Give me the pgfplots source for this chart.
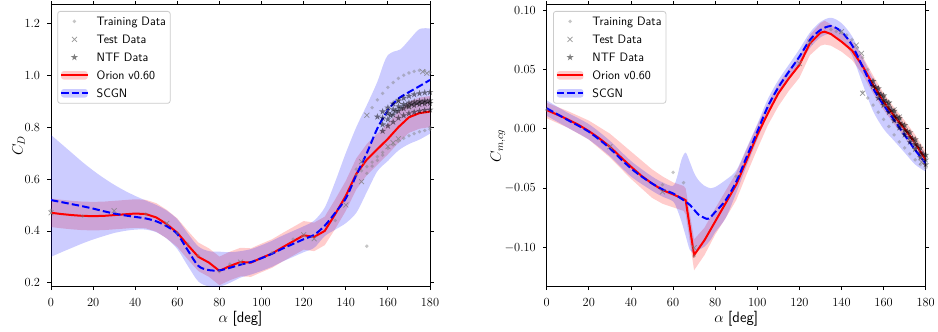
\RequirePackage{fix-cm}
\documentclass[border=0pt]{standalone}
\usepackage{fontspec}
\usepackage{pgfplots}
\pgfplotsset{compat=1.18}
\usepgfplotslibrary{fillbetween}

\pgfdeclareplotmark{fstar}{%
  \pgfpathmoveto{\pgfqpointpolar{90}{\pgfplotmarksize}}%
  \pgfpathlineto{\pgfqpointpolar{126}{0.382\pgfplotmarksize}}%
  \pgfpathlineto{\pgfqpointpolar{162}{\pgfplotmarksize}}%
  \pgfpathlineto{\pgfqpointpolar{198}{0.382\pgfplotmarksize}}%
  \pgfpathlineto{\pgfqpointpolar{234}{\pgfplotmarksize}}%
  \pgfpathlineto{\pgfqpointpolar{270}{0.382\pgfplotmarksize}}%
  \pgfpathlineto{\pgfqpointpolar{306}{\pgfplotmarksize}}%
  \pgfpathlineto{\pgfqpointpolar{342}{0.382\pgfplotmarksize}}%
  \pgfpathlineto{\pgfqpointpolar{18}{\pgfplotmarksize}}%
  \pgfpathlineto{\pgfqpointpolar{54}{0.382\pgfplotmarksize}}%
  \pgfpathclose\pgfusepathqfill}

\pgfplotsset{
 base/.style={
  scale only axis, width=379pt, height=282pt,
  xmin=0, xmax=180, xtick={0,20,...,180},
  tick align=outside, major tick length=3.5pt,
  tick style={black, line width=0.8pt},
  axis line style={black, line width=0.8pt},
  tick label style={font=\fontsize{12.4}{14}\selectfont},
  xticklabel style={yshift=-5.2pt},
  yticklabel style={xshift=-3.9pt},
  scaled y ticks=false,
  label style={font=\fontsize{15}{18}\selectfont},
  xlabel={$\alpha$ \textsf{[deg]}},
  xlabel style={at={(axis description cs:0.5,0)}, anchor=base, yshift=-35.8pt},
  legend cell align=left,
  legend style={at={(0,1)}, anchor=north west, xshift=6.3pt, yshift=-6.3pt,
    draw=black!20, line width=0.8pt, rounded corners=2.5pt,
    fill=white, fill opacity=0.8, text opacity=1,
    font=\sffamily\fontsize{12.2}{14.4}\selectfont,
    inner xsep=2.4pt, inner ysep=2.2pt, nodes={inner sep=2pt}, column sep=6pt, row sep=2.4pt},
 },
 trainmark/.style={only marks, mark=*, mark size=1.9pt, mark options={fill=black!50, fill opacity=0.45, draw opacity=0}},
 testmark/.style={only marks, mark=x, mark size=3.5pt, mark options={draw=black!50, draw opacity=0.8, line width=0.7pt}},
 ntfmark/.style={only marks, mark=fstar, mark size=3.6pt, mark options={fill=black, fill opacity=0.5}},
 orionline/.style={red, line width=2pt, sharp plot},
 scgnline/.style={blue, line width=2pt, dash pattern=on 7.4pt off 3.2pt, smooth},
}

\newcommand{\mylegend}{%
  \addlegendimage{legend image code/.code={\path[draw=none, fill=none] (0pt,-4.5pt) rectangle (26.6pt,4.5pt); \fill[draw=none, black!50, fill opacity=0.45] (13.3pt,0pt) circle (1.9pt);}}
  \addlegendimage{legend image code/.code={\path[draw=none, fill=none] (0pt,-4.5pt) rectangle (26.6pt,4.5pt); \draw[black!50, draw opacity=0.8, line width=0.7pt] (10.8pt,-2.5pt) -- (15.8pt,2.5pt) (10.8pt,2.5pt) -- (15.8pt,-2.5pt);}}
  \addlegendimage{legend image code/.code={\path[draw=none, fill=none] (0pt,-4.5pt) rectangle (26.6pt,4.5pt); \begin{scope}[shift={(13.3pt,0pt)}, fill=black, fill opacity=0.5]\pgfsetplotmarksize{3.6pt}\pgfuseplotmark{fstar}\end{scope}}}
  \addlegendimage{legend image code/.code={\fill[draw=none, red, fill opacity=0.2] (0pt,-4.2pt) rectangle (26.6pt,4.2pt); \draw[red, line width=2pt, sharp corners] (0pt,0pt) -- (26.6pt,0pt);}}
  \addlegendimage{legend image code/.code={\fill[draw=none, blue, fill opacity=0.2] (0pt,-4.2pt) rectangle (26.6pt,4.2pt); \draw[blue, line width=2pt, sharp corners, dash pattern=on 7.4pt off 3.2pt] (0pt,0pt) -- (26.6pt,0pt);}}
  \legend{\strut Training Data, \strut Test Data, \strut NTF Data, \strut Orion v0.60, \strut SCGN}%
}

\begin{document}
\begin{tikzpicture}

% ---------------- Left: C_D ----------------
\begin{axis}[base, at={(51pt,45.3pt)}, anchor=south west,
  ymin=0.185, ymax=1.272, ytick={0.2,0.4,0.6,0.8,1.0,1.2},
  yticklabel style={/pgf/number format/.cd, fixed, fixed zerofill, precision=1},
  ylabel={$C_D$},
  ylabel style={at={(axis description cs:-0.0752,0.5)}, anchor=base},
]
% Orion band
\addplot[name path=rU, draw=none, forget plot] coordinates {
(0,0.525)(5,0.520)(10,0.516)(15,0.513)(20,0.512)(25,0.513)(30,0.516)(35,0.519)(40,0.522)(45,0.520)(50,0.507)(55,0.481)(60,0.448)(65,0.400)(70,0.355)(75,0.333)(80,0.301)(85,0.320)(90,0.335)(95,0.333)(100,0.351)(105,0.368)(110,0.392)(115,0.415)(120,0.438)(125,0.432)(130,0.455)(135,0.522)(140,0.593)(145,0.680)(150,0.735)(155,0.775)(160,0.815)(165,0.860)(170,0.898)(175,0.914)(180,0.920)};
\addplot[name path=rL, draw=none, forget plot] coordinates {
(0,0.415)(5,0.410)(10,0.406)(15,0.403)(20,0.402)(25,0.403)(30,0.406)(35,0.409)(40,0.412)(45,0.410)(50,0.397)(55,0.371)(60,0.338)(65,0.290)(70,0.245)(75,0.223)(80,0.191)(85,0.210)(90,0.225)(95,0.223)(100,0.241)(105,0.258)(110,0.282)(115,0.305)(120,0.328)(125,0.322)(130,0.345)(135,0.408)(140,0.477)(145,0.560)(150,0.615)(155,0.655)(160,0.695)(165,0.740)(170,0.778)(175,0.794)(180,0.800)};
\addplot[red, fill opacity=0.2, draw=none, forget plot] fill between[of=rU and rL];
% SCGN band
\addplot[name path=bU, draw=none, smooth, forget plot] coordinates {
(0,0.770)(5,0.735)(10,0.700)(15,0.665)(20,0.633)(25,0.604)(30,0.578)(35,0.555)(40,0.535)(45,0.517)(50,0.500)(55,0.478)(60,0.445)(65,0.390)(70,0.340)(75,0.322)(80,0.320)(85,0.318)(90,0.322)(95,0.330)(100,0.345)(105,0.362)(110,0.382)(115,0.400)(120,0.418)(125,0.440)(130,0.490)(135,0.590)(140,0.700)(145,0.800)(150,0.885)(155,0.975)(158,1.045)(160,1.078)(163,1.092)(166,1.100)(170,1.135)(175,1.178)(180,1.180)};
\addplot[name path=bL, draw=none, smooth, forget plot] coordinates {
(0,0.300)(5,0.318)(10,0.335)(15,0.352)(20,0.367)(25,0.380)(30,0.392)(35,0.400)(40,0.405)(45,0.405)(50,0.395)(55,0.370)(60,0.330)(65,0.265)(70,0.205)(75,0.186)(80,0.185)(85,0.200)(90,0.220)(95,0.232)(100,0.246)(105,0.262)(110,0.282)(115,0.300)(120,0.318)(125,0.335)(130,0.380)(135,0.405)(140,0.430)(145,0.470)(150,0.550)(155,0.630)(160,0.670)(165,0.710)(170,0.735)(175,0.752)(180,0.775)};
\addplot[blue, fill opacity=0.2, draw=none, forget plot] fill between[of=bU and bL];
% Training data
\addplot[trainmark, forget plot] coordinates {
(0,0.48)(15,0.457)(45,0.465)(60,0.392)(65,0.35)(70,0.305)(80,0.243)(85,0.272)(105,0.316)(115,0.368)(135,0.44)(145,0.638)(150,0.341)(180,0.80)
(152.5,0.875)(155,0.905)(157.5,0.930)(160,0.953)(162.5,0.972)(165,0.988)(167.5,1.000)(170,1.009)(172.5,1.015)(175,1.019)(177.5,1.017)(180,1.012)
(145,0.615)(147.5,0.632)(150,0.648)(152.5,0.665)(155,0.686)(157.5,0.703)(160,0.718)(162.5,0.732)(165,0.745)(167.5,0.757)(170,0.767)(172.5,0.775)(175,0.782)(177.5,0.787)(180,0.792)
(150,0.622)(152.5,0.650)(155,0.672)(157.5,0.692)};
% Test data
\addplot[testmark, forget plot] coordinates {
(0,0.47)(30,0.478)(55,0.429)(90,0.28)(120,0.385)(125,0.370)(140,0.50)(147.5,0.59)(147.5,0.667)(150,0.846)(160,0.725)(162.5,0.74)(165,0.755)(176.5,1.014)(178.5,1.008)(160,0.862)(165,0.900)(170,0.880)};
% NTF data
\addplot[ntfmark, forget plot] coordinates {
(157.5,0.785)(160,0.805)(162.5,0.820)(165,0.835)(167.5,0.845)(170,0.853)(172.5,0.858)(175,0.862)(177.5,0.865)(180,0.867)
(157.5,0.810)(160,0.830)(162.5,0.848)(165,0.862)(167.5,0.872)(170,0.879)(172.5,0.884)(175,0.888)(177.5,0.890)(180,0.892)
(157.5,0.835)(160,0.853)(162.5,0.868)(165,0.880)(167.5,0.888)(170,0.894)(172.5,0.898)(175,0.900)(177.5,0.902)(180,0.903)
(155,0.840)(157.5,0.860)(160,0.875)(162.5,0.890)(165,0.902)(167.5,0.912)(170,0.920)(172.5,0.926)(175,0.930)(177.5,0.933)(180,0.935)
(161.25,0.845)(163.75,0.862)(166.25,0.874)(168.75,0.883)(171.25,0.889)(173.75,0.893)(176.25,0.896)(178.75,0.898)};
% Lines
\addplot[orionline, forget plot] coordinates {
(0,0.470)(5,0.465)(10,0.461)(15,0.458)(20,0.457)(25,0.458)(30,0.461)(35,0.464)(40,0.467)(45,0.465)(50,0.452)(55,0.426)(60,0.393)(65,0.345)(70,0.300)(75,0.278)(80,0.246)(85,0.265)(90,0.280)(95,0.278)(100,0.296)(105,0.313)(110,0.337)(115,0.360)(120,0.383)(125,0.377)(130,0.400)(135,0.465)(140,0.535)(145,0.620)(150,0.675)(155,0.715)(160,0.755)(165,0.800)(170,0.838)(175,0.854)(180,0.860)};
\addplot[scgnline, forget plot] coordinates {
(0,0.519)(5,0.511)(10,0.503)(15,0.495)(20,0.486)(25,0.476)(30,0.467)(35,0.460)(40,0.454)(45,0.448)(50,0.437)(55,0.418)(60,0.388)(65,0.325)(70,0.265)(75,0.249)(80,0.248)(85,0.258)(90,0.270)(95,0.280)(100,0.295)(105,0.312)(110,0.332)(115,0.350)(120,0.368)(125,0.385)(130,0.420)(135,0.470)(140,0.525)(145,0.615)(150,0.700)(155,0.795)(160,0.865)(165,0.910)(170,0.935)(175,0.958)(180,0.982)};
\mylegend
\end{axis}

% ---------------- Right: C_m,cg ----------------
\begin{axis}[base, at={(546.7pt,45.3pt)}, anchor=south west,
  ymin=-0.1328, ymax=0.1045, ytick={-0.1,-0.05,0,0.05,0.1},
  yticklabel style={/pgf/number format/.cd, fixed, fixed zerofill, precision=2},
  ylabel={$C_{m,cg}$},
  ylabel style={at={(axis description cs:-0.1206,0.5)}, anchor=base},
]
\addplot[name path=rU, draw=none, forget plot] coordinates {
(0,0.022)(10,0.015)(20,0.007)(30,-0.004)(40,-0.019)(50,-0.034)(55,-0.040)(60,-0.045)(65,-0.048)(66,-0.050)(70,-0.093)(75,-0.083)(80,-0.067)(85,-0.052)(90,-0.037)(95,-0.017)(100,0.003)(105,0.021)(110,0.038)(115,0.050)(120,0.061)(125,0.079)(130,0.089)(132,0.091)(135,0.088)(140,0.081)(145,0.074)(150,0.061)(155,0.045)(160,0.030)(165,0.018)(170,0.007)(175,-0.005)(180,-0.019)};
\addplot[name path=rL, draw=none, forget plot] coordinates {
(0,0.009)(10,0.001)(20,-0.009)(30,-0.024)(40,-0.042)(50,-0.058)(55,-0.063)(60,-0.066)(65,-0.069)(66,-0.072)(70,-0.119)(75,-0.106)(80,-0.089)(85,-0.075)(90,-0.060)(95,-0.038)(100,-0.017)(105,0.003)(110,0.019)(115,0.032)(120,0.043)(125,0.062)(130,0.070)(132,0.071)(135,0.070)(140,0.065)(145,0.058)(150,0.046)(155,0.030)(160,0.016)(165,0.004)(170,-0.007)(175,-0.019)(180,-0.033)};
\addplot[red, fill opacity=0.2, draw=none, forget plot] fill between[of=rU and rL];
\addplot[name path=bU, draw=none, smooth, forget plot] coordinates {
(0,0.024)(10,0.0135)(20,0.004)(30,-0.010)(40,-0.027)(50,-0.040)(55,-0.045)(60,-0.048)(62,-0.040)(64,-0.026)(66,-0.020)(68,-0.028)(70,-0.037)(72,-0.043)(75,-0.048)(78,-0.050)(80,-0.049)(85,-0.043)(90,-0.035)(95,-0.016)(100,0.004)(105,0.025)(110,0.041)(115,0.054)(120,0.067)(125,0.081)(130,0.090)(135,0.0935)(140,0.089)(145,0.078)(150,0.060)(155,0.042)(160,0.027)(165,0.014)(170,0.002)(175,-0.010)(180,-0.022)};
\addplot[name path=bL, draw=none, smooth, forget plot] coordinates {
(0,0.011)(10,0.001)(20,-0.009)(30,-0.023)(40,-0.040)(50,-0.052)(55,-0.057)(60,-0.061)(62,-0.068)(64,-0.078)(66,-0.090)(68,-0.102)(70,-0.104)(72,-0.102)(75,-0.099)(78,-0.093)(80,-0.087)(85,-0.075)(90,-0.054)(95,-0.031)(100,-0.009)(105,0.012)(110,0.028)(115,0.041)(120,0.054)(125,0.068)(130,0.077)(135,0.080)(140,0.074)(145,0.062)(150,0.038)(155,0.015)(160,0.000)(165,-0.010)(170,-0.020)(175,-0.030)(180,-0.036)};
\addplot[blue, fill opacity=0.2, draw=none, forget plot] fill between[of=bU and bL];
\addplot[trainmark, forget plot] coordinates {
(0,0.016)(55,-0.047)(60,-0.0366)(65,-0.0453)(70,-0.107)(90,-0.040)
(135,0.0837)(137.5,0.082)(140,0.081)(142.5,0.079)(145,0.075)(147.5,0.068)(150,0.060)(152.5,0.050)(155,0.041)(157.5,0.034)(160,0.027)(162.5,0.020)(165,0.014)(167.5,0.008)(170,0.002)(172.5,-0.004)(175,-0.010)(177.5,-0.017)(180,-0.023)
(150,0.031)(152.5,0.026)(155,0.020)(157.5,0.014)(160,0.008)(162.5,0.002)(165,-0.005)(167.5,-0.011)(170,-0.016)(172.5,-0.021)(175,-0.026)(177.5,-0.030)(180,-0.033)};
\addplot[testmark, forget plot] coordinates {
(30,-0.015)(55,-0.053)(70,-0.100)(120,0.055)(125,0.073)(140,0.0818)(147,0.0705)(149.5,0.0635)(150,0.0300)(160,0.026)(162.5,0.021)(165,0.016)(167.5,0.010)(175,-0.012)(178,-0.028)};
\addplot[ntfmark, forget plot] coordinates {
(155,0.040)(157.5,0.034)(160,0.028)(162.5,0.022)(165,0.015)(167.5,0.009)(170,0.003)(172.5,-0.003)(175,-0.009)(177.5,-0.016)(180,-0.022)
(155,0.036)(157.5,0.030)(160,0.024)(162.5,0.018)(165,0.011)(167.5,0.005)(170,-0.001)(172.5,-0.007)(175,-0.013)(177.5,-0.020)(180,-0.026)
(157.5,0.026)(160,0.020)(162.5,0.014)(165,0.007)(167.5,0.001)(170,-0.005)(172.5,-0.011)(175,-0.017)(177.5,-0.024)(180,-0.030)
(156.25,0.035)(158.75,0.029)(161.25,0.023)(163.75,0.016)(166.25,0.010)(168.75,0.004)(171.25,-0.002)(173.75,-0.008)(176.25,-0.014)(178.75,-0.021)};
\addplot[orionline, forget plot] coordinates {
(0,0.0158)(5,0.012)(10,0.008)(15,0.0035)(20,-0.0018)(25,-0.008)(30,-0.015)(35,-0.0235)(40,-0.0318)(45,-0.0395)(50,-0.0459)(55,-0.0515)(60,-0.0551)(65,-0.059)(66,-0.060)(70,-0.1062)(75,-0.0935)(80,-0.078)(85,-0.0625)(90,-0.047)(95,-0.0262)(100,-0.0052)(105,0.013)(110,0.0299)(115,0.0425)(120,0.0537)(125,0.072)(130,0.0809)(132,0.0818)(135,0.0798)(140,0.0734)(145,0.066)(150,0.053)(155,0.037)(160,0.023)(165,0.011)(170,0.000)(175,-0.012)(180,-0.026)};
\addplot[scgnline, forget plot] coordinates {
(0,0.0173)(5,0.0124)(10,0.0074)(15,0.0027)(20,-0.0024)(25,-0.009)(30,-0.0164)(35,-0.025)(40,-0.0332)(45,-0.040)(50,-0.0459)(55,-0.0509)(60,-0.0543)(65,-0.060)(68,-0.064)(70,-0.068)(72,-0.072)(75,-0.075)(77,-0.0755)(80,-0.070)(85,-0.060)(90,-0.0445)(95,-0.0234)(100,-0.0024)(105,0.0187)(110,0.0349)(115,0.0481)(120,0.0607)(125,0.0748)(130,0.0832)(135,0.0865)(140,0.0818)(145,0.0705)(150,0.0523)(155,0.0341)(160,0.0201)(165,0.0074)(170,-0.0052)(175,-0.0178)(180,-0.029)};
\mylegend
\end{axis}
\pgfresetboundingbox
\useasboundingbox (0,0) rectangle (938pt,332pt);
\end{tikzpicture}
\end{document}
